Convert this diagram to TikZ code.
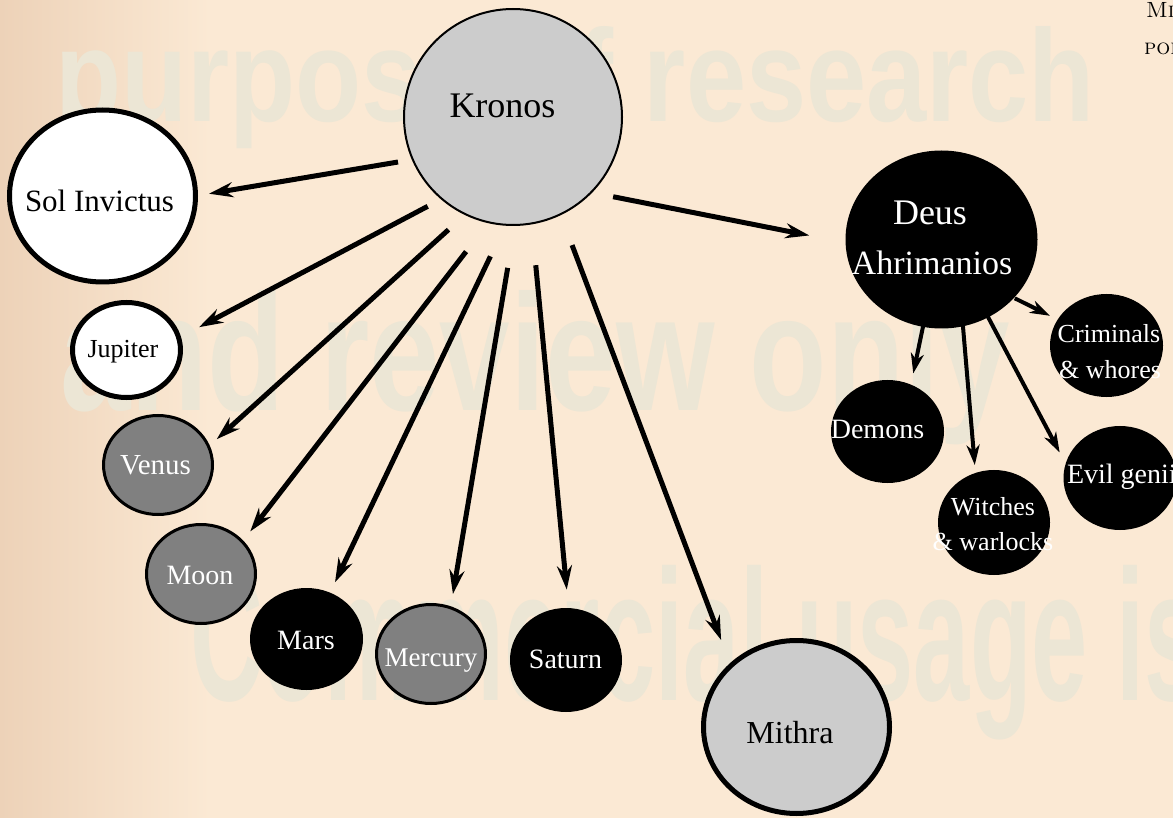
\documentclass[tikz,border=0pt]{standalone}
\usepackage{fontspec}
\usetikzlibrary{shapes.geometric,arrows.meta}

\newfontfamily\wmfont{Liberation Sans}
\newfontfamily\namefont{Liberation Serif}

\definecolor{bgc}{RGB}{251,233,212}
\definecolor{edgec}{RGB}{237,210,184}
\definecolor{wmc}{RGB}{236,230,213}
\definecolor{lgray}{RGB}{204,204,204}
\definecolor{mgray}{RGB}{128,128,128}

% deity name at a given size
\newcommand\nametxt[2]{{\fontsize{#1}{#1}\selectfont\namefont #2}}

\begin{document}
\begin{tikzpicture}[x=1pt,y=-1pt,
  orb/.style={ellipse, inner sep=0pt, outer sep=0pt, draw=black},
  arr/.style={line width=5pt, -{Stealth[length=24pt,width=15pt,inset=8pt]}},
  subarr/.style={line width=4pt, -{Stealth[length=20pt,width=13pt,inset=6pt]}},
  lbl/.style={inner sep=0pt, outer sep=0pt, anchor=base},
  wm/.style={inner sep=0pt, outer sep=0pt, anchor=base west, text=wmc}
]
\useasboundingbox (0,0) rectangle (1173,818);
\clip (0,0) rectangle (1173,818);

% paper background
\fill[bgc] (0,0) rectangle (1173,818);
\shade[left color=edgec, right color=bgc] (0,0) rectangle (210,818);

% faint watermark lettering
\node[wm] (wm1) at (55,122) {\resizebox{1040pt}{95pt}{\wmfont\bfseries purpose of research}};
\node[wm] (wm2) at (60,410) {\resizebox{950pt}{120pt}{\wmfont\bfseries and review only}};
\node[wm] (wm3) at (190,700) {\resizebox{1010pt}{135pt}{\wmfont\bfseries Commercial usage is}};

% corner heading
\node[inner sep=0pt, anchor=base west, font=\fontsize{22}{22}\selectfont\scshape] (hmi) at (1146,18) {Mi};
\node[inner sep=0pt, anchor=base west, font=\fontsize{22}{22}\selectfont\scshape] (hpol) at (1144,55) {pol};

% the deities
\node[orb, fill=lgray, line width=2pt, minimum width=218pt, minimum height=216pt] (kronos) at (513,117) {};
\node[orb, fill=white, line width=5pt, minimum width=186pt, minimum height=172pt] (sol) at (102.5,196) {};
\node[orb, fill=white, line width=5pt, minimum width=108pt, minimum height=95pt] (jupiter) at (126.5,350) {};
\node[orb, fill=mgray, line width=3pt, minimum width=109pt, minimum height=99pt] (venus) at (158,465) {};
\node[orb, fill=mgray, line width=3pt, minimum width=109pt, minimum height=99pt] (moon) at (201,574) {};
\node[orb, fill=black, line width=3pt, minimum width=110pt, minimum height=99pt] (mars) at (306.5,639) {};
\node[orb, fill=mgray, line width=3pt, minimum width=109pt, minimum height=99pt] (mercury) at (431,654) {};
\node[orb, fill=black, line width=3pt, minimum width=109pt, minimum height=101pt] (saturn) at (566,660) {};
\node[orb, fill=lgray, line width=5pt, minimum width=186pt, minimum height=173pt] (mithra) at (796.5,727) {};
\node[orb, fill=black, line width=2pt, minimum width=190pt, minimum height=176pt] (deus) at (941.5,239.5) {};
\node[orb, fill=black, line width=3pt, minimum width=110pt, minimum height=100pt] (criminals) at (1106.5,345.5) {};
\node[orb, fill=black, line width=3pt, minimum width=110pt, minimum height=100pt] (demons) at (887.5,431.5) {};
\node[orb, fill=black, line width=3pt, minimum width=109pt, minimum height=102pt] (witches) at (994,522.5) {};
\node[orb, fill=black, line width=3pt, minimum width=110pt, minimum height=101pt] (evil) at (1120,478) {};

% names
\node[lbl] (kronosT) at (502.5,118) {\nametxt{36}{Kronos}};
\node[lbl] (solT) at (99.5,212) {\nametxt{31}{Sol Invictus}};
\node[lbl] (jupiterT) at (123,358) {\nametxt{26}{Jupiter}};
\node[lbl, text=white] (venusT) at (155.5,474) {\nametxt{29}{Venus}};
\node[lbl, text=white] (moonT) at (200,584) {\nametxt{28}{Moon}};
\node[lbl, text=white] (marsT) at (306,649) {\nametxt{28}{Mars}};
\node[lbl, text=white] (mercuryT) at (431,666) {\nametxt{27}{Mercury}};
\node[lbl, text=white] (saturnT) at (565.5,668) {\nametxt{28}{Saturn}};
\node[lbl] (mithraT) at (790,743) {\nametxt{32}{Mithra}};
\node[lbl, text=white] (deusTa) at (930,225) {\nametxt{36}{Deus}};
\node[lbl, text=white] (deusTb) at (932,275) {\nametxt{34}{Ahrimanios}};
\node[lbl, text=white] (criminalsTa) at (1109,343) {\nametxt{26}{Criminals}};
\node[lbl, text=white] (criminalsTb) at (1110,378) {\nametxt{26}{\& whores}};
\node[lbl, text=white] (demonsT) at (877.5,438) {\nametxt{28}{Demons}};
\node[lbl, text=white] (witchesTa) at (993,515) {\nametxt{26}{Witches}};
\node[lbl, text=white] (witchesTb) at (993,550) {\nametxt{26}{\& warlocks}};
\node[lbl, text=white, anchor=base west] (evilT) at (1067,483) {\nametxt{28}{Evil genii}};

% descent from Kronos
\draw[arr, shorten <=15pt, shorten >=13.7pt] (kronos.203) -- (sol.0);
\draw[arr, shorten <=16pt, shorten >=23pt] (kronos.229) -- (jupiter.13);
\draw[arr, shorten <=23pt, shorten >=11pt] (kronos.244) -- (venus.20);
\draw[arr, shorten <=37pt, shorten >=13pt] (kronos.257) -- (moon.38);
\draw[arr, shorten <=35pt, shorten >=13pt] (kronos.266) -- (mars.63);
\draw[arr, shorten <=43.5pt, shorten >=14pt] (kronos.271) -- (mercury.67);
\draw[arr, shorten <=42pt, shorten >=20pt] (kronos.280) -- (saturn.87);
\draw[arr, shorten <=33pt, shorten >=27.5pt] (kronos.296) -- (mithra.137);
\draw[arr, shorten <=22.5pt, shorten >=38pt] (kronos.316) -- (deus.182);

% descent from Deus Ahrimanios
\draw[subarr, shorten <=2pt, shorten >=10pt] (deus.321) -- (criminals.152);
\draw[subarr, shorten >=13pt] (deus.258) -- (demons.63);
\draw[subarr, shorten >=9.5pt] (deus.284) -- (witches.111);
\draw[subarr, shorten >=15pt] (deus.301) -- (evil.167);
\end{tikzpicture}
\end{document}
